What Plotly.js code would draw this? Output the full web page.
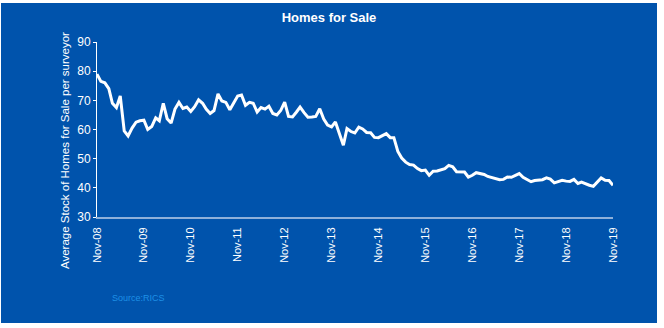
<!DOCTYPE html>
<html>
<head>
<meta charset="utf-8">
<script src="https://cdn.plot.ly/plotly-3.0.1.min.js"></script>
<style>
  html, body { margin: 0; padding: 0; background: #ffffff; width: 664px; height: 328px; overflow: hidden; }
  #chart { position: absolute; left: 1px; top: 3px; width: 656px; height: 320px; }
</style>
</head>
<body>
<div id="chart"></div>
<script>
// Monthly series, Nov-2008 .. Nov-2019
const startYear = 2008;
const startMonth = 11;
const stockPerSurveyor = [
  79.0, 76.5, 76.0, 74.0, 69.0, 67.5, 71.5, 59.5, 57.8, 60.5, 62.5, 63.0,
  63.2, 60.0, 61.0, 64.0, 63.0, 69.0, 63.7, 62.2, 67.0, 69.3, 67.2, 67.7,
  66.2, 67.8, 70.2, 69.0, 67.0, 65.5, 66.5, 72.2, 69.8, 69.3, 66.8, 69.3,
  71.5, 71.8, 68.3, 69.3, 69.0, 66.0, 67.5, 67.0, 68.0, 65.5, 65.0, 66.5,
  69.4, 64.5, 64.3, 66.0, 67.7, 65.8, 64.2, 64.3, 64.5, 67.1, 63.6, 61.5,
  60.9, 62.6, 58.5, 54.6, 60.3, 59.3, 58.8, 60.8, 60.2, 59.0, 58.9, 57.3,
  57.2, 58.0, 58.6, 57.2, 57.2, 52.5, 50.2, 48.8, 48.0, 47.8, 46.6, 45.9,
  46.1, 44.3, 45.7, 45.8, 46.2, 46.6, 47.7, 47.2, 45.5, 45.4, 45.4, 43.7,
  44.3, 45.2, 44.9, 44.6, 43.9, 43.5, 43.2, 42.8, 42.9, 43.7, 43.6, 44.2,
  44.9, 43.6, 42.8, 42.1, 42.5, 42.7, 42.8, 43.4, 43.0, 41.7, 42.3, 42.6,
  42.3, 42.2, 42.9, 41.5, 42.0, 41.3, 40.9, 40.5, 41.8, 43.4, 42.6, 42.5,
  40.9
];
const tickYears = [2008, 2009, 2010, 2011, 2012, 2013, 2014, 2015, 2016, 2017, 2018, 2019];
const tickLabels = ["Nov-08","Nov-09","Nov-10","Nov-11","Nov-12","Nov-13","Nov-14","Nov-15","Nov-16","Nov-17","Nov-18","Nov-19"];
const yTicks = [30, 40, 50, 60, 70, 80, 90];

function pad(n) { return n < 10 ? "0" + n : "" + n; }
const dates = stockPerSurveyor.map((_, i) => {
  const total = (startMonth - 1) + i;
  const y = startYear + Math.floor(total / 12);
  const m = (total % 12) + 1;
  return y + "-" + pad(m) + "-01";
});
const tickVals = tickYears.map(y => y + "-11-01");

const BLUE = "#0053AC";
const trace = {
  x: dates,
  y: stockPerSurveyor,
  type: "scatter",
  mode: "lines",
  line: { color: "#ffffff", width: 3 },
  hoverinfo: "skip"
};

const layout = {
  width: 656,
  height: 320,
  paper_bgcolor: BLUE,
  plot_bgcolor: BLUE,
  showlegend: false,
  margin: { l: 96, r: 44, t: 39, b: 106 },
  font: { family: "Arial, Liberation Sans, sans-serif", color: "#ffffff" },
  title: {
    text: "<b>Homes for Sale</b>",
    font: { size: 13, color: "#ffffff", family: "Arial, Liberation Sans, sans-serif" },
    x: 0.5, xanchor: "center", y: 0.955, yanchor: "middle"
  },
  xaxis: {
    type: "date",
    range: ["2008-11-01", "2019-11-01"],
    tickmode: "array",
    tickvals: tickVals,
    ticktext: tickLabels,
    tickangle: -90,
    tickfont: { size: 11, color: "#ffffff" },
    showgrid: false,
    zeroline: false,
    showline: true,
    linecolor: "#8EB0DA",
    linewidth: 2,
    ticks: "",
    ticklabelstandoff: 4
  },
  yaxis: {
    range: [30, 90],
    tickmode: "array",
    tickvals: yTicks,
    tickfont: { size: 12, color: "#ffffff" },
    showgrid: false,
    zeroline: false,
    showline: true,
    linecolor: "#ffffff",
    linewidth: 1,
    ticks: "outside",
    ticklen: 3,
    tickcolor: "#ffffff"
  },
  annotations: [
    {
      text: "Average Stock of Homes for Sale per surveyor",
      xref: "paper", yref: "paper",
      x: (64 - 96) / 516, y: 0.5, xanchor: "center", yanchor: "middle",
      textangle: -90,
      showarrow: false,
      font: { size: 11.5, color: "#ffffff", family: "Arial, Liberation Sans, sans-serif" }
    },
    {
      text: "Source:RICS",
      xref: "paper", yref: "paper",
      x: 0.025, y: 0, xanchor: "left", yanchor: "middle",
      showarrow: false,
      font: { size: 9, color: "#1E90E6", family: "Liberation Sans Narrow, Arial Narrow, sans-serif" }
    }
  ]
};
layout.annotations[0].y = 1 - (148 - 39) / 175;
layout.annotations[1].y = 1 - (295 - 39) / 175;

Plotly.newPlot("chart", [trace], layout, { displayModeBar: false, staticPlot: true });
</script>
</body>
</html>
